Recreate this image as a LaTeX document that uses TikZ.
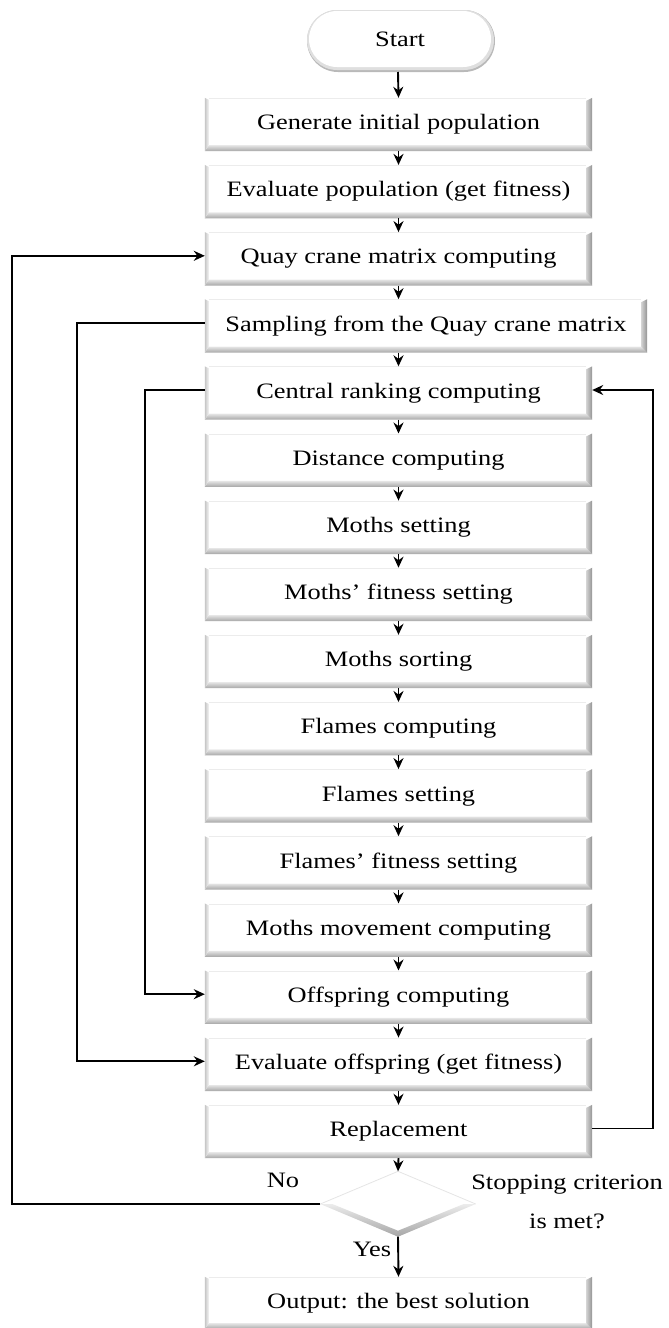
\documentclass[tikz,border=0pt]{standalone}
\usepackage{fontspec}
\setmainfont{Liberation Serif}[FakeStretch=1.2]
\usetikzlibrary{arrows.meta,shapes.geometric,calc}
\tikzset{
  proc/.style={minimum width=387pt,minimum height=53pt,inner sep=0pt,fill=white,
    font=\fontsize{22}{26}\selectfont},
  arr/.style={line width=1.9pt,-{Stealth[length=11pt,width=10pt]}},
  lbl/.style={font=\fontsize{22}{26}\selectfont,inner sep=0pt},
  bevB/.style={top color=gray!20,bottom color=gray!70},
  bevR/.style={left color=gray!35,right color=gray!85},
  bevL/.style={left color=gray!45,right color=gray!8},
}
\begin{document}
\begin{tikzpicture}[x=1pt,y=-1pt]
\useasboundingbox (0,0) rectangle (669,1328);
% start
\fill[gray!55,rounded corners=31pt] (307,10) rectangle (495,72);
\fill[gray!25,rounded corners=30pt] (307,10) rectangle (494,70);
\node[fill=white,rounded corners=28pt,minimum width=182pt,minimum height=56pt,inner sep=0pt,
  font=\fontsize{22}{26}\selectfont] (st) at (400,39) {Start};
\coordinate (stb) at (398,72);
% process boxes
\node[proc] (g0) at (398.5,124.5) {Generate initial population};
\node[proc] (g1) at (398.5,191.6) {Evaluate population (get fitness)};
\node[proc] (g2) at (398.5,258.8) {Quay crane matrix computing};
\node[proc,minimum width=442pt] (g3) at (426,325.9) {Sampling from the Quay crane matrix};
\node[proc] (g4) at (398.5,393.0) {Central ranking computing};
\node[proc] (g5) at (398.5,460.2) {Distance computing};
\node[proc] (g6) at (398.5,527.3) {Moths setting};
\node[proc] (g7) at (398.5,594.4) {Moths' fitness setting};
\node[proc] (g8) at (398.5,661.5) {Moths sorting};
\node[proc] (g9) at (398.5,728.7) {Flames computing};
\node[proc] (g10) at (398.5,795.8) {Flames setting};
\node[proc] (g11) at (398.5,862.9) {Flames' fitness setting};
\node[proc] (g12) at (398.5,930.1) {Moths movement computing};
\node[proc] (g13) at (398.5,997.2) {Offspring computing};
\node[proc] (g14) at (398.5,1064.3) {Evaluate offspring (get fitness)};
\node[proc] (g15) at (398.5,1131.5) {Replacement};
\node[proc,minimum height=52pt] (out) at (398.5,1303) {Output: the best solution};
% bevels
\foreach \n in {g0,g1,g2,g3,g4,g5,g6,g7,g8,g9,g10,g11,g12,g13,g14,g15,out}{
  \shade[bevB] (\n.south west) -- (\n.south east) -- ([xshift=-6pt,yshift=6pt]\n.south east)
     -- ([xshift=4pt,yshift=6pt]\n.south west) -- cycle;
  \shade[bevR] (\n.north east) -- (\n.south east) -- ([xshift=-6pt,yshift=6pt]\n.south east)
     -- ([xshift=-6pt,yshift=-3pt]\n.north east) -- cycle;
  \shade[bevL] (\n.north west) -- (\n.south west) -- ([xshift=4pt,yshift=6pt]\n.south west)
     -- ([xshift=4pt,yshift=-2pt]\n.north west) -- cycle;
  \draw[gray!15,line width=0.8pt] ([xshift=4pt,yshift=-0.5pt]\n.north west) -- ([xshift=-6pt,yshift=-0.5pt]\n.north east);
}
% decision
\node[diamond,minimum width=155pt,minimum height=65pt,inner sep=0pt,fill=white] (dec) at (398,1204) {};
\shade[top color=gray!15,bottom color=gray!70] (dec.west) -- (dec.south) -- (dec.east)
   -- ([xshift=-12pt]dec.east) -- ([yshift=6pt]dec.south) -- ([xshift=12pt]dec.west) -- cycle;
\draw[gray!20,line width=0.8pt] (dec.west) -- (dec.north) -- (dec.east);
% vertical arrows
\draw[arr] (stb) -- (g0.north);
\draw[arr] (g0.south) -- (g1.north);
\draw[arr] (g1.south) -- (g2.north);
\draw[arr] (g2.south) -- (g2.south |- g3.north);
\draw[arr] (g4.north |- g3.south) -- (g4.north);
\draw[arr] (g4.south) -- (g5.north);
\draw[arr] (g5.south) -- (g6.north);
\draw[arr] (g6.south) -- (g7.north);
\draw[arr] (g7.south) -- (g8.north);
\draw[arr] (g8.south) -- (g9.north);
\draw[arr] (g9.south) -- (g10.north);
\draw[arr] (g10.south) -- (g11.north);
\draw[arr] (g11.south) -- (g12.north);
\draw[arr] (g12.south) -- (g13.north);
\draw[arr] (g13.south) -- (g14.north);
\draw[arr] (g14.south) -- (g15.north);
\draw[arr] (g15.south) -- (dec.north);
\draw[arr] (dec.south) -- (out.north);
% loops
\coordinate (xl) at (12,700);
\coordinate (xs) at (77,700);
\coordinate (xc) at (145,700);
\coordinate (xr) at (653,700);
\draw[arr] (dec.west) -- (dec.west -| xl) |- ([yshift=3pt]g2.west);
\draw[arr] ([yshift=3pt]g3.west) -| (xs) |- ([yshift=3pt]g14.west);
\draw[arr] ([yshift=3pt]g4.west) -| (xc) |- ([yshift=3pt]g13.west);
\draw[arr] ([yshift=3pt]g15.east) -| (xr) |- ([yshift=3pt]g4.east);
% labels
\node[lbl] (no) at (283,1180) {No};
\node[lbl] (yes) at (372,1249) {Yes};
\node[lbl,align=center,font=\fontsize{22}{39}\selectfont] (stop) at (567,1202) {Stopping criterion\\is met?};
\end{tikzpicture}
\end{document}
